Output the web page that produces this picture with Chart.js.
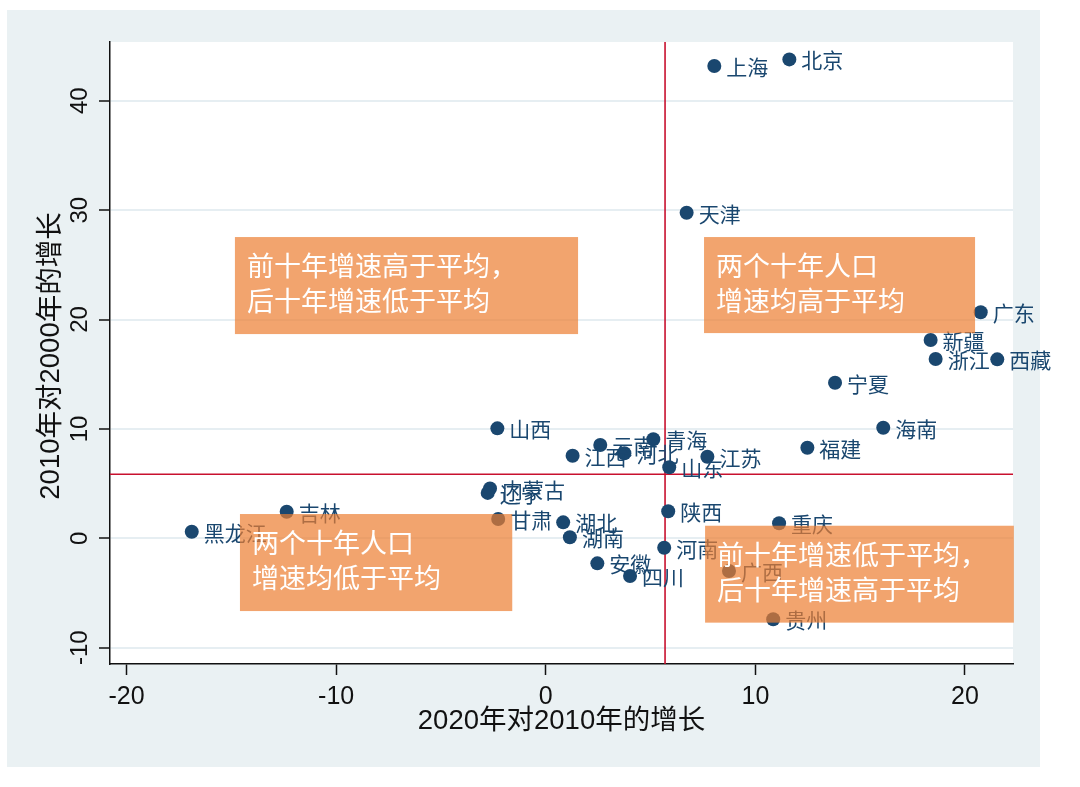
<!DOCTYPE html>
<html><head><meta charset="utf-8">
<script src="https://cdn.jsdelivr.net/npm/chart.js@4.4.1/dist/chart.umd.min.js"></script>
<style>html,body{margin:0;padding:0;background:#fff;}canvas{display:block;}</style>
</head><body>
<canvas id="c" width="1080" height="787"></canvas>
<script>
// ---- data ----
const provinces = ["北京","上海","天津","广东","新疆","浙江","西藏","宁夏","海南","福建",
  "山西","江西","云南","河北","青海","山东","江苏","内蒙古","辽宁","甘肃",
  "湖北","湖南","陕西","河南","安徽","四川","广西","黑龙江","吉林","重庆","贵州"];
const growth2020vs2010 = [11.62,8.04,6.72,20.75,18.36,18.60,21.54,13.80,16.10,12.48,
  -2.31,1.28,2.60,3.75,5.13,5.89,7.71,-2.66,-2.77,-2.27,
  0.83,1.15,5.84,5.65,2.46,4.02,8.74,-16.89,-12.36,11.13,10.85];
const growth2010vs2000 = [43.78,43.17,29.76,20.66,18.13,16.39,16.36,14.22,10.11,8.28,
  10.05,7.55,8.53,7.77,9.05,6.49,7.46,4.55,4.15,1.76,
  1.46,0.09,2.48,-0.86,-2.29,-3.45,-2.99,0.60,2.43,1.37,-7.40];
const xTicks = [-20,-10,0,10,20];
const yTicks = [-10,0,10,20,30,40];
const avgGrowth2020 = 5.69;
const avgGrowth2010 = 5.85;
const xTitle = "2020年对2010年的增长";
const yTitle = "2010年对2000年的增长";
const noteTexts = [
  ["前十年增速高于平均，","后十年增速低于平均"],
  ["两个十年人口","增速均高于平均"],
  ["两个十年人口","增速均低于平均"],
  ["前十年增速低于平均，","后十年增速高于平均"]
];

// ---- styles / layout ----
const NAVY = "#1a476f";
const BG = "#eaf1f3";
const GRID = "#e6eef2";
const RED = "#c8102e";
const LATIN = '"Liberation Sans", "Noto Sans CJK SC", sans-serif';
const CJK = '"Noto Sans CJK SC", sans-serif';
// note boxes in data coordinates [x0, x1, yTop, yBottom]
const noteBoxes = [
  [-14.83, 1.54, 27.54, 18.67],
  [7.55, 20.48, 27.54, 18.76],
  [-14.59, -1.60, 2.22, -6.65],
  [7.60, 22.33, 1.15, -7.71]
];

const points = growth2020vs2010.map((x,i)=>({x:x, y:growth2010vs2000[i]}));

const decor = {
  id:'decor',
  beforeDraw(chart){
    const {ctx, chartArea:a} = chart;
    ctx.save();
    ctx.fillStyle='#fff'; ctx.fillRect(0,0,chart.width,chart.height);
    ctx.fillStyle=BG; ctx.fillRect(7,10,1033,757);
    ctx.fillStyle='#fff'; ctx.fillRect(a.left,a.top,a.right-a.left,a.bottom-a.top);
    ctx.restore();
  },
  beforeDatasetsDraw(chart){
    const {ctx, chartArea:a, scales:{x,y}} = chart;
    ctx.save();
    ctx.strokeStyle=RED; ctx.lineWidth=1.6;
    const vx = x.getPixelForValue(avgGrowth2020);
    const hy = y.getPixelForValue(avgGrowth2010);
    ctx.beginPath(); ctx.moveTo(vx,a.top); ctx.lineTo(vx,a.bottom); ctx.stroke();
    ctx.beginPath(); ctx.moveTo(a.left,hy); ctx.lineTo(a.right,hy); ctx.stroke();
    ctx.restore();
  },
  afterDatasetsDraw(chart){
    const {ctx, scales:{x,y}} = chart;
    ctx.save();
    // labels
    const meta = chart.getDatasetMeta(0);
    ctx.font = '21px ' + CJK;
    ctx.fillStyle = NAVY; ctx.textBaseline='middle'; ctx.textAlign='left';
    meta.data.forEach((pt,i)=>{ ctx.fillText(provinces[i], pt.x+12, pt.y+1); });
    // note boxes
    noteBoxes.forEach((b,i)=>{
      const x0 = x.getPixelForValue(b[0]), x1 = x.getPixelForValue(b[1]);
      const y0 = y.getPixelForValue(b[2]), y1 = y.getPixelForValue(b[3]);
      ctx.fillStyle = 'rgba(237,125,49,0.7)';
      ctx.fillRect(x0,y0,x1-x0,y1-y0);
      ctx.fillStyle = '#fff';
      ctx.font = '27px ' + CJK;
      ctx.fillText(noteTexts[i][0], x0+12, y0+29);
      ctx.fillText(noteTexts[i][1], x0+12, y0+64);
    });
    ctx.restore();
  },
  afterDraw(chart){
    const {ctx, chartArea:a, scales:{x,y}} = chart;
    ctx.save();
    ctx.fillStyle='#111';
    ctx.font = '25px ' + LATIN;
    ctx.textAlign='center'; ctx.textBaseline='middle';
    x.ticks.forEach(t=>{ ctx.fillText(String(t.value), x.getPixelForValue(t.value), 697); });
    ctx.font = '24px ' + LATIN;
    y.ticks.forEach(t=>{
      ctx.save(); ctx.translate(80, y.getPixelForValue(t.value)); ctx.rotate(-Math.PI/2);
      ctx.fillText(String(t.value), 0, 0); ctx.restore();
    });
    ctx.font = '27.5px ' + LATIN;
    ctx.fillText(xTitle, (a.left+a.right)/2, 721);
    ctx.save(); ctx.translate(51, (a.top+a.bottom)/2+3); ctx.rotate(-Math.PI/2);
    ctx.fillText(yTitle, 0, 0); ctx.restore();
    ctx.restore();
  }
};

new Chart(document.getElementById('c'), {
  type:'scatter',
  data:{ datasets:[{ data:points, backgroundColor:NAVY, borderWidth:0, pointRadius:7, pointHoverRadius:7, clip:false }] },
  options:{
    responsive:false, animation:false, devicePixelRatio:1, events:[],
    layout:{ padding:{ left:0, top:42, right:67, bottom:0 } },
    plugins:{ legend:{display:false}, tooltip:{enabled:false} },
    scales:{
      x:{ type:'linear', min:-20.79, max:22.29,
        afterBuildTicks: s=>{ s.ticks = xTicks.map(v=>({value:v})); },
        afterFit: s=>{ s.height = 123; },
        ticks:{ display:false },
        grid:{ display:true, drawOnChartArea:false, drawTicks:true, tickLength:11, tickColor:'#111', tickWidth:1.5 },
        border:{ display:true, color:'#111', width:1.5 }
      },
      y:{ type:'linear', min:-11.49, max:45.37,
        afterBuildTicks: s=>{ s.ticks = yTicks.map(v=>({value:v})); },
        afterFit: s=>{ s.width = 110; },
        ticks:{ display:false },
        grid:{ display:true, drawOnChartArea:true, color:GRID, lineWidth:2, drawTicks:true, tickLength:11, tickColor:'#111', tickWidth:1.5 },
        border:{ display:true, color:'#111', width:1.5 }
      }
    }
  },
  plugins:[decor]
});
</script>
</body></html>
